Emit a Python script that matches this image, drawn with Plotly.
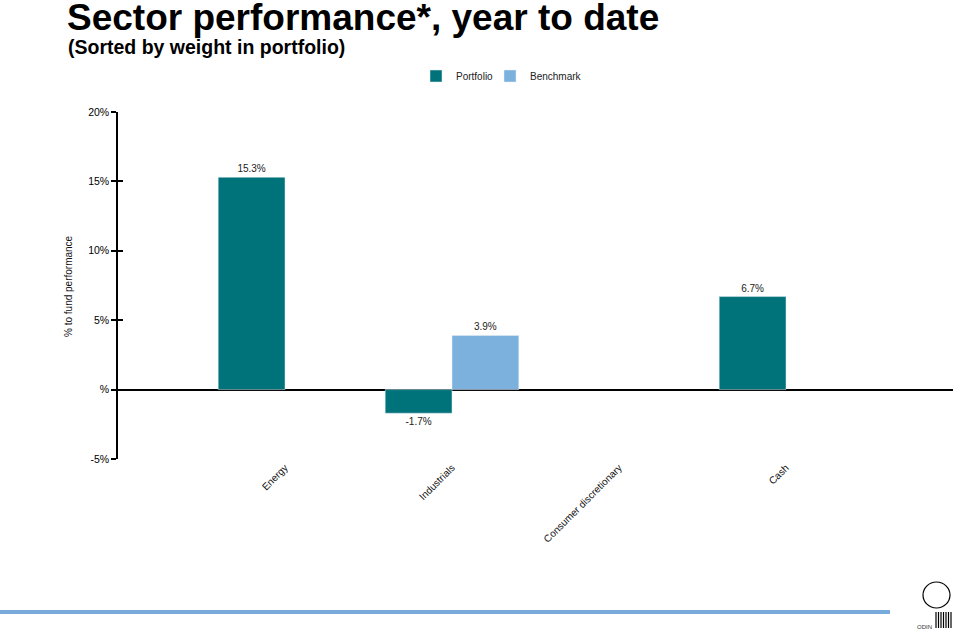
import plotly.graph_objects as go

sectors = ["Energy", "Industrials", "Consumer discretionary", "Cash"]
portfolio = [15.3, -1.7, None, 6.7]
benchmark = [None, 3.9, None, None]
tick_vals = [-5, 0, 5, 10, 15, 20]
tick_text = ["-5%", "%", "5%", "10%", "15%", "20%"]

teal = "#00727a"
light_blue = "#7cb0dd"
font_main = "Liberation Sans Narrow, Arial Narrow, Liberation Sans, Arial, sans-serif"
font_small = "Liberation Sans, Arial, sans-serif"

W, H = 960, 634
L, R, T, B = 118, 7, 112, 175
pw, ph = W - L - R, H - T - B

def px(x):  # pixel x -> paper
    return (x - L) / pw

def py(y):  # pixel y -> paper
    return (H - B - y) / ph

def fmt(v):
    return "" if v is None else f"{v:.1f}%"

fig = go.Figure()
fig.add_trace(go.Bar(
    name="Portfolio", x=sectors, y=portfolio, marker_color=teal, legend="legend",
    text=[fmt(v) for v in portfolio], textposition="outside",
    textfont=dict(size=10, color="#222", family=font_small), cliponaxis=False,
))
fig.add_trace(go.Bar(
    name="Benchmark", x=sectors, y=benchmark, marker_color=light_blue, legend="legend2",
    text=[fmt(v) for v in benchmark], textposition="outside",
    textfont=dict(size=10, color="#222", family=font_small), cliponaxis=False,
))
# invisible trace to carry inward ticks on the y axis
fig.add_trace(go.Scatter(x=[sectors[0]], y=[0], yaxis="y2", mode="markers",
                         marker=dict(opacity=0), showlegend=False, hoverinfo="skip"))

# logo: circle + little stripes + ODIN
logo_shapes = [
    dict(type="circle", xref="paper", yref="paper", x0=px(923), x1=px(950),
         y0=py(608), y1=py(582), line=dict(color="black", width=1.2)),
]
for i in range(7):
    xx = 936 + i * 2.5
    logo_shapes.append(dict(type="line", xref="paper", yref="paper", x0=px(xx), x1=px(xx),
                            y0=py(612), y1=py(628), line=dict(color="black", width=1.2)))

legend_style = dict(orientation="h", xanchor="left", y=py(76), yanchor="middle",
                    font=dict(size=10, color="#222"), itemwidth=30, bgcolor="rgba(0,0,0,0)")

fig.update_layout(
    width=W, height=H,
    margin=dict(l=L, r=R, t=T, b=B, autoexpand=False),
    plot_bgcolor="white", paper_bgcolor="white",
    barmode="group", bargap=0.2, bargroupgap=0,
    font=dict(family=font_small, color="#222", size=11),
    title=dict(
        text="<b>Sector performance*, year to date</b>",
        xref="container", x=67 / W, xanchor="left",
        yref="container", y=1 - 30 / H, yanchor="bottom",
        font=dict(size=37, color="black", family=font_main),
        pad=dict(t=0, b=0, l=0),
    ),
    legend=dict(x=px(416), **legend_style),
    legend2=dict(x=px(490), **legend_style),
    xaxis=dict(
        range=[-1, 4], tickangle=-45, showline=False, ticks="", automargin=False,
        tickfont=dict(size=10, color="#111"), showgrid=False,
    ),
    yaxis=dict(
        range=[-5, 20], tickvals=tick_vals, ticktext=tick_text, automargin=False,
        tickfont=dict(size=10.5, color="black"),
        showline=True, linecolor="black", linewidth=1.5,
        ticks="outside", ticklen=5, tickwidth=1.5, tickcolor="black",
        showgrid=False, zeroline=True, zerolinecolor="black", zerolinewidth=1.5,
    ),
    yaxis2=dict(
        range=[-5, 20], overlaying="y", anchor="x", side="left", automargin=False,
        tickvals=tick_vals, showticklabels=False, showgrid=False, zeroline=False,
        ticks="inside", ticklen=5, tickwidth=1.5, tickcolor="black",
    ),
    annotations=[
        dict(text="<b>(Sorted by weight in portfolio)</b>", xref="paper", yref="paper",
             x=px(66), y=py(47), xanchor="left", yanchor="middle", showarrow=False,
             font=dict(size=19.5, color="black", family=font_main)),
        dict(text="% to fund performance", xref="paper", yref="paper", textangle=-90,
             x=px(68), y=py(286), xanchor="center", yanchor="middle", showarrow=False,
             font=dict(size=10, color="#111")),
        dict(text="ODIN", xref="paper", yref="paper", x=px(924), y=py(627),
             xanchor="center", yanchor="middle", showarrow=False,
             font=dict(size=6, color="#333")),
    ],
    shapes=[
        dict(type="line", xref="paper", yref="paper", x0=px(0), x1=px(890),
             y0=py(612), y1=py(612), line=dict(color="#78aadc", width=4)),
    ] + logo_shapes,
)

# page body has a default 8px margin; drop it so the figure sits at the window corner
fig.write_html("out.html", config={"displayModeBar": False},
               post_script="document.body.style.margin='0px';")
